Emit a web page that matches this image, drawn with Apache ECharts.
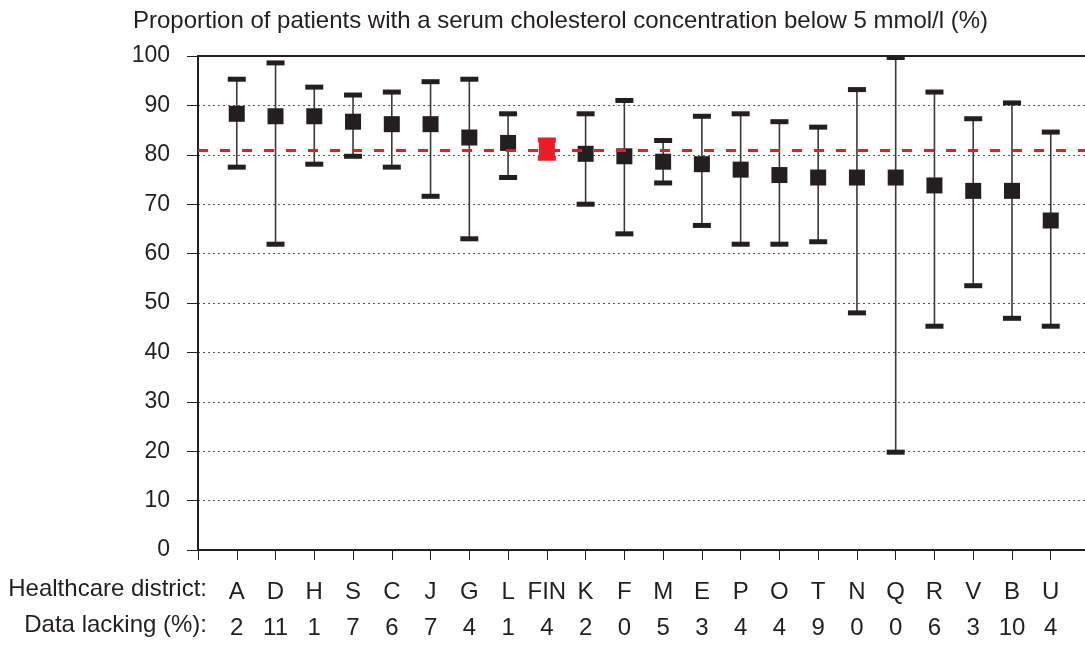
<!DOCTYPE html>
<html>
<head>
<meta charset="utf-8">
<script src="https://cdn.jsdelivr.net/npm/echarts@6/dist/echarts.min.js"></script>
<style>
html,body{margin:0;padding:0;background:#fff;}
#chart{width:1085px;height:646px;}
</style>
</head>
<body>
<div id="chart"></div>
<script>
// districts in plotted order, with mean and 95% limits
const districts = ['A','D','H','S','C','J','G','L','FIN','K','F','M','E','P','O','T','N','Q','R','V','B','U']
const lacking = [2,11,1,7,6,7,4,1,4,2,0,5,3,4,4,9,0,0,6,3,10,4]
const means = [88.3,87.8,87.8,86.7,86.2,86.2,83.5,82.4,81.0,80.2,79.7,78.6,78.1,77.0,75.9,75.4,75.4,75.4,73.8,72.7,72.7,66.7]
const lows  = [77.5,61.9,78.1,79.7,77.5,71.6,63.0,75.4,79.3,70.0,64.0,74.3,65.7,61.9,61.9,62.4,48.0,19.8,45.3,53.5,46.9,45.3]
const highs = [95.3,98.6,93.7,92.1,92.7,94.8,95.3,88.3,83.0,88.3,91.0,82.9,87.8,88.3,86.7,85.6,93.2,99.7,92.7,87.3,90.5,84.6]
const finLevel = 81.0
const yTicks = [0,10,20,30,40,50,60,70,80,90,100]

const black = '#231f20'
const red = '#ed1c24'
const font = 'Liberation Sans, Arial, sans-serif'

// empty slot at each end so the districts sit one step in from the frame
const cats = [''].concat(districts).concat([''])

const chart = echarts.init(document.getElementById('chart'))

const option = {
    animation:false,
    title:{
        text:'Proportion of patients with a serum cholesterol concentration below 5 mmol/l (%)',
        left:128,
        top:4,
        textStyle:{fontFamily:font,fontSize:24,fontWeight:'normal',color:black}
    },
    graphic:[
        {type:'text',right:1085-207,top:577,style:{text:'Healthcare district:',font:'24px '+font,fill:black,textAlign:'right'}},
        {type:'text',right:1085-207,top:613,style:{text:'Data lacking (%):',font:'24px '+font,fill:black,textAlign:'right'}}
    ],
    // the frame runs a little past the right edge of the picture
    grid:{left:198,width:891.5,top:56,height:494,outerBoundsMode:'none',containLabel:false},
    xAxis:[
        {
            type:'category',
            data:cats,
            boundaryGap:false,
            axisLine:{lineStyle:{color:black,width:2}},
            axisTick:{interval:0,length:10,lineStyle:{color:black,width:1}},
            axisLabel:{
                interval:0,
                margin:24,
                formatter:(v)=>{
                    if(!v) return ''
                    const i = districts.indexOf(v)
                    return '{a|'+v+'}\n{b|'+lacking[i]+'}'
                },
                rich:{
                    a:{fontFamily:font,fontSize:24,color:black,lineHeight:36},
                    b:{fontFamily:font,fontSize:24,color:black,lineHeight:36}
                }
            },
            splitLine:{show:false}
        },
        {
            type:'category',
            data:cats,
            boundaryGap:false,
            position:'top',
            axisLine:{lineStyle:{color:black,width:2}},
            axisTick:{show:false},
            axisLabel:{show:false}
        }
    ],
    yAxis:{
        type:'value',
        min:yTicks[0],
        max:yTicks[yTicks.length-1],
        interval:10,
        axisLine:{show:true,lineStyle:{color:black,width:2}},
        axisTick:{show:true,length:11,lineStyle:{color:black,width:1}},
        axisLabel:{margin:28,fontFamily:font,fontSize:23,color:black},
        splitLine:{lineStyle:{color:'#555',width:1,type:[2,3]}}
    },
    series:[
        {
            type:'custom',
            z:2,
            data:districts.map((d,i)=>[d,lows[i],highs[i]]),
            encode:{x:0,y:[1,2]},
            renderItem:(params,api)=>{
                const c = districts[params.dataIndex]==='FIN' ? red : black
                const lo = api.coord([api.value(0),api.value(1)])
                const hi = api.coord([api.value(0),api.value(2)])
                const capW = 18, capH = 5
                return {
                    type:'group',
                    children:[
                        {type:'line',shape:{x1:lo[0],y1:lo[1],x2:hi[0],y2:hi[1]},style:{stroke:c==black?'#3a3a3a':c,lineWidth:1.6}},
                        {type:'rect',shape:{x:hi[0]-capW/2,y:hi[1]-capH/2,width:capW,height:capH},style:{fill:c}},
                        {type:'rect',shape:{x:lo[0]-capW/2,y:lo[1]-capH/2,width:capW,height:capH},style:{fill:c}}
                    ]
                }
            },
            markLine:{
                silent:true,
                symbol:'none',
                label:{show:false},
                lineStyle:{color:red,width:3,type:[10,12]},
                data:[{yAxis:finLevel}]
            }
        },
        {
            type:'scatter',
            z:3,
            symbol:'rect',
            symbolSize:16,
            data:districts.map((d,i)=>({
                value:[d,means[i]],
                itemStyle:{color:d==='FIN'?red:black,opacity:1}
            }))
        }
    ]
}

option && chart.setOption(option)
</script>
</body>
</html>
